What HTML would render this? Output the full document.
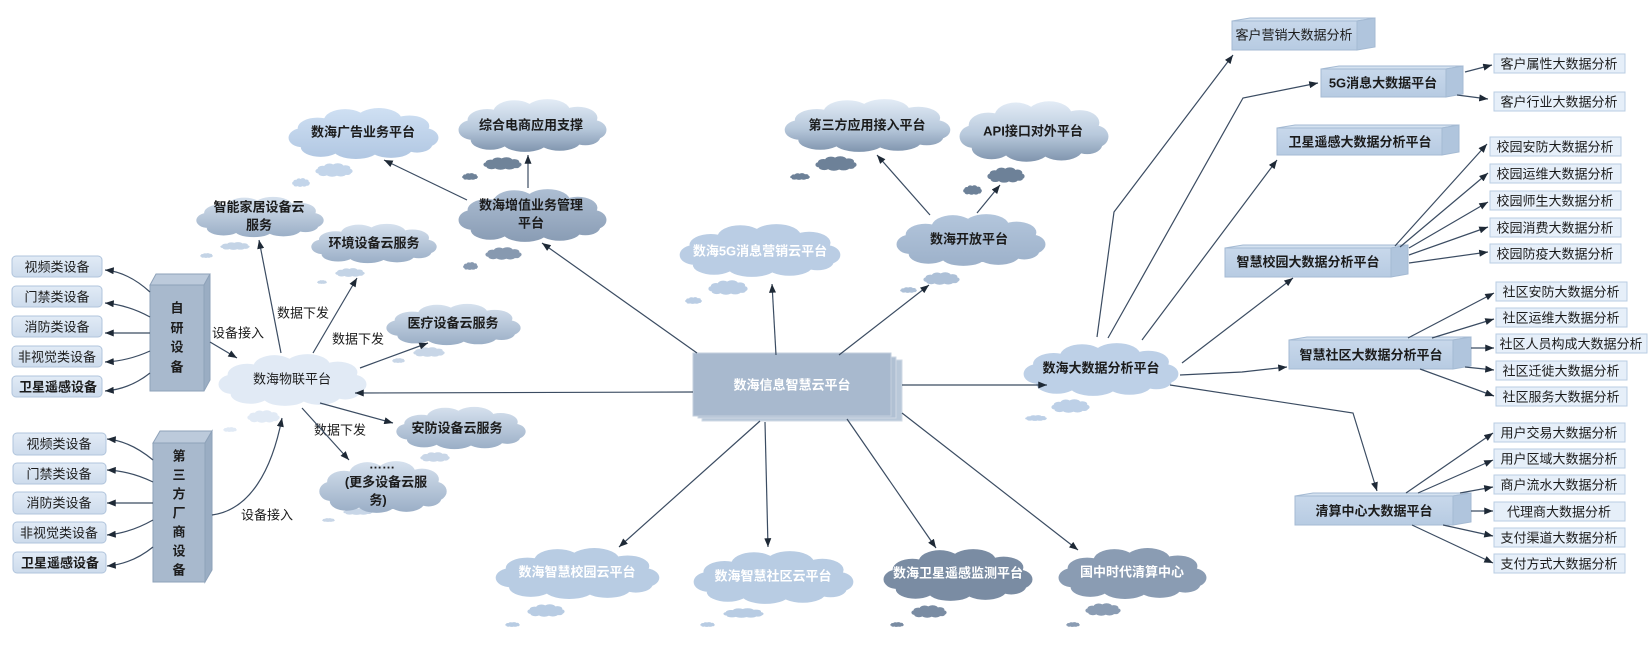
<!DOCTYPE html>
<html><head><meta charset="utf-8">
<style>
html,body{margin:0;padding:0;background:#fff;}
svg{display:block;font-family:"Liberation Sans","Noto Sans CJK SC",sans-serif;}
.t{font-size:13px;fill:#1b1b1b;text-anchor:middle;dominant-baseline:central;}
.b{font-weight:bold;}
.w{fill:#ffffff;}
</style></head>
<body>
<svg width="1650" height="656" viewBox="0 0 1650 656" xmlns="http://www.w3.org/2000/svg">
<defs>
<path id="cl" d="M10,26 a40,16 0 1,0 80,0 a40,16 0 1,0 -80,0 Z M7,20 a13,10 0 1,0 26,0 a13,10 0 1,0 -26,0 Z M24,13 a14,11 0 1,0 28,0 a14,11 0 1,0 -28,0 Z M45,12 a15,11 0 1,0 30,0 a15,11 0 1,0 -30,0 Z M67,18 a13,10 0 1,0 26,0 a13,10 0 1,0 -26,0 Z M1,29 a9,9 0 1,0 18,0 a9,9 0 1,0 -18,0 Z M81,29 a9,9 0 1,0 18,0 a9,9 0 1,0 -18,0 Z M9,38 a13,9 0 1,0 26,0 a13,9 0 1,0 -26,0 Z M30,40 a15,9 0 1,0 30,0 a15,9 0 1,0 -30,0 Z M54,39 a14,9 0 1,0 28,0 a14,9 0 1,0 -28,0 Z M75,35 a10,8 0 1,0 20,0 a10,8 0 1,0 -20,0 Z"/>
<linearGradient id="gA" x1="0" y1="0" x2="0" y2="1"><stop offset="0" stop-color="#d6e1ee"/><stop offset="1" stop-color="#9aaec6"/></linearGradient>
<linearGradient id="gB" x1="0" y1="0" x2="0" y2="1"><stop offset="0" stop-color="#cfe0f3"/><stop offset="1" stop-color="#b1c7e2"/></linearGradient>
<linearGradient id="gC" x1="0" y1="0" x2="0" y2="1"><stop offset="0" stop-color="#e3ecf6"/><stop offset="0.55" stop-color="#b8c9dc"/><stop offset="1" stop-color="#7f94ad"/></linearGradient>
<linearGradient id="gD" x1="0" y1="0" x2="0" y2="1"><stop offset="0" stop-color="#adbed3"/><stop offset="1" stop-color="#899cb4"/></linearGradient>
<linearGradient id="gE" x1="0" y1="0" x2="0" y2="1"><stop offset="0" stop-color="#b3c6dc"/><stop offset="1" stop-color="#9db1ca"/></linearGradient>
<linearGradient id="gBox" x1="0" y1="0" x2="0" y2="1"><stop offset="0" stop-color="#c8d8eb"/><stop offset="1" stop-color="#b7cbe2"/></linearGradient>
<linearGradient id="gLeft" x1="0" y1="0" x2="0" y2="1"><stop offset="0" stop-color="#e2ebf6"/><stop offset="1" stop-color="#cddbec"/></linearGradient>
<marker id="ah" viewBox="0 0 10 8" refX="10" refY="4" markerWidth="9" markerHeight="7" markerUnits="userSpaceOnUse" orient="auto"><path d="M0,0 L10,4 L0,8 z" fill="#1e2936"/></marker>
</defs>

<!-- small clouds -->
<g>
<use href="#cl" transform="translate(315,163) scale(0.38,0.28)" fill="#c3d5ea"/>
<use href="#cl" transform="translate(292,178) scale(0.18,0.18)" fill="#c3d5ea"/>
<use href="#cl" transform="translate(483,157) scale(0.39,0.26)" fill="#6f8399"/>
<use href="#cl" transform="translate(462,173) scale(0.16,0.14)" fill="#6f8399"/>
<use href="#cl" transform="translate(485,247) scale(0.37,0.26)" fill="#8799b0"/>
<use href="#cl" transform="translate(463,262) scale(0.15,0.16)" fill="#8799b0"/>
<use href="#cl" transform="translate(220,242) scale(0.30,0.16)" fill="#c4d4e6"/>
<use href="#cl" transform="translate(200,253) scale(0.13,0.10)" fill="#c4d4e6"/>
<use href="#cl" transform="translate(335,268) scale(0.30,0.18)" fill="#c4d4e6"/>
<use href="#cl" transform="translate(317,280) scale(0.10,0.08)" fill="#c4d4e6"/>
<use href="#cl" transform="translate(413,347) scale(0.32,0.20)" fill="#c8d6e7"/>
<use href="#cl" transform="translate(392,358) scale(0.13,0.10)" fill="#c8d6e7"/>
<use href="#cl" transform="translate(420,452) scale(0.30,0.20)" fill="#c8d6e7"/>
<use href="#cl" transform="translate(343,508) scale(0.30,0.14)" fill="#c8d6e7"/>
<use href="#cl" transform="translate(322,518) scale(0.13,0.08)" fill="#c8d6e7"/>
<use href="#cl" transform="translate(247,410) scale(0.33,0.26)" fill="#e1eaf5"/>
<use href="#cl" transform="translate(223,427) scale(0.14,0.10)" fill="#e1eaf5"/>
<use href="#cl" transform="translate(815,156) scale(0.42,0.30)" fill="#6d8198"/>
<use href="#cl" transform="translate(790,173) scale(0.20,0.14)" fill="#6d8198"/>
<use href="#cl" transform="translate(987,167) scale(0.38,0.32)" fill="#6d8198"/>
<use href="#cl" transform="translate(963,185) scale(0.19,0.20)" fill="#6d8198"/>
<use href="#cl" transform="translate(923,272) scale(0.37,0.26)" fill="#adc0d7"/>
<use href="#cl" transform="translate(900,287) scale(0.17,0.12)" fill="#adc0d7"/>
<use href="#cl" transform="translate(708,280) scale(0.40,0.30)" fill="#bacde4"/>
<use href="#cl" transform="translate(685,297) scale(0.17,0.14)" fill="#bacde4"/>
<use href="#cl" transform="translate(1051,399) scale(0.39,0.28)" fill="#bdd0e7"/>
<use href="#cl" transform="translate(1025,415) scale(0.22,0.12)" fill="#bdd0e7"/>
<use href="#cl" transform="translate(527,604) scale(0.38,0.26)" fill="#b8cce3"/>
<use href="#cl" transform="translate(505,622) scale(0.15,0.10)" fill="#b8cce3"/>
<use href="#cl" transform="translate(723,608) scale(0.41,0.20)" fill="#b8cce3"/>
<use href="#cl" transform="translate(700,622) scale(0.15,0.10)" fill="#b8cce3"/>
<use href="#cl" transform="translate(911,605) scale(0.36,0.26)" fill="#7a8ca3"/>
<use href="#cl" transform="translate(890,622) scale(0.14,0.10)" fill="#7a8ca3"/>
<use href="#cl" transform="translate(1085,603) scale(0.36,0.26)" fill="#8a9cb3"/>
<use href="#cl" transform="translate(1066,622) scale(0.14,0.10)" fill="#8a9cb3"/>
</g>

<!-- big clouds -->
<use href="#cl" transform="translate(287,107) scale(1.53,1.06)" fill="url(#gB)"/>
<use href="#cl" transform="translate(457,98) scale(1.51,1.10)" fill="url(#gC)"/>
<use href="#cl" transform="translate(457,188) scale(1.51,1.10)" fill="url(#gD)"/>
<use href="#cl" transform="translate(195,196) scale(1.30,0.84)" fill="url(#gA)"/>
<use href="#cl" transform="translate(310,223) scale(1.28,0.82)" fill="url(#gA)"/>
<use href="#cl" transform="translate(385,303) scale(1.37,0.86)" fill="url(#gA)"/>
<use href="#cl" transform="translate(395,406) scale(1.32,0.88)" fill="url(#gA)"/>
<use href="#cl" transform="translate(318,460) scale(1.30,1.08)" fill="url(#gA)"/>
<use href="#cl" transform="translate(217,353) scale(1.51,1.08)" fill="#e1eaf5"/>
<use href="#cl" transform="translate(783,98) scale(1.69,1.10)" fill="url(#gC)"/>
<use href="#cl" transform="translate(958,100) scale(1.52,1.26)" fill="url(#gC)"/>
<use href="#cl" transform="translate(895,213) scale(1.52,1.08)" fill="url(#gE)"/>
<use href="#cl" transform="translate(678,223) scale(1.64,1.10)" fill="#bacde4"/>
<use href="#cl" transform="translate(1022,342) scale(1.58,1.10)" fill="#bdd0e7"/>
<use href="#cl" transform="translate(494,547) scale(1.67,1.06)" fill="#b8cce3"/>
<use href="#cl" transform="translate(692,550) scale(1.63,1.10)" fill="#b8cce3"/>
<use href="#cl" transform="translate(882,548) scale(1.52,1.08)" fill="#7a8ca3"/>
<use href="#cl" transform="translate(1057,547) scale(1.51,1.06)" fill="#8a9cb3"/>

<!-- cloud labels -->
<text class="t b" x="363" y="132">数海广告业务平台</text>
<text class="t b" x="531" y="125">综合电商应用支撑</text>
<text class="t b" x="531" y="205">数海增值业务管理</text>
<text class="t b" x="531" y="223">平台</text>
<text class="t b" x="259" y="207">智能家居设备云</text>
<text class="t b" x="259" y="225">服务</text>
<text class="t b" x="374" y="243">环境设备云服务</text>
<text class="t b" x="453" y="323">医疗设备云服务</text>
<text class="t b" x="457" y="428">安防设备云服务</text>
<text class="t b" x="382" y="464">……</text>
<text class="t b" x="386" y="482">(更多设备云服</text>
<text class="t b" x="378" y="500">务)</text>
<text class="t" x="292" y="379">数海物联平台</text>
<text class="t b" x="867" y="125">第三方应用接入平台</text>
<text class="t b" x="1033" y="131">API接口对外平台</text>
<text class="t b" x="969" y="239">数海开放平台</text>
<text class="t b w" x="760" y="251">数海5G消息营销云平台</text>
<text class="t b" x="1101" y="368">数海大数据分析平台</text>
<text class="t b w" x="577" y="572">数海智慧校园云平台</text>
<text class="t b w" x="773" y="576">数海智慧社区云平台</text>
<text class="t b w" x="958" y="573">数海卫星遥感监测平台</text>
<text class="t b w" x="1132" y="572">国中时代清算中心</text>

<!-- center box -->
<rect x="702" y="360" width="200" height="61" fill="#b9c8d9" stroke="#d0dae5"/>
<rect x="698" y="357" width="198" height="61" fill="#b0c0d3" stroke="#cfd9e4"/>
<rect x="693" y="353" width="198" height="63" fill="#a8b9ce" stroke="#c3cfdd"/>
<text class="t b w" x="792" y="385">数海信息智慧云平台</text>

<!-- tall boxes -->
<polygon points="150,285 156,274 210,274 204,285" fill="#bccadb" stroke="#8ea2b9"/>
<polygon points="204,285 210,274 210,380 204,391" fill="#9aadc3" stroke="#8ea2b9"/>
<rect x="150" y="285" width="54" height="106" fill="#a8b9cd" stroke="#8ea2b9"/>
<text class="t b" x="177" y="308">自</text>
<text class="t b" x="177" y="328">研</text>
<text class="t b" x="177" y="347">设</text>
<text class="t b" x="177" y="367">备</text>
<polygon points="153,443 160,431 212,431 205,443" fill="#bccadb" stroke="#8ea2b9"/>
<polygon points="205,443 212,431 212,570 205,582" fill="#9aadc3" stroke="#8ea2b9"/>
<rect x="153" y="443" width="52" height="139" fill="#a8b9cd" stroke="#8ea2b9"/>
<text class="t b" x="179" y="456">第</text>
<text class="t b" x="179" y="475">三</text>
<text class="t b" x="179" y="494">方</text>
<text class="t b" x="179" y="513">厂</text>
<text class="t b" x="179" y="532">商</text>
<text class="t b" x="179" y="551">设</text>
<text class="t b" x="179" y="570">备</text>

<!-- left device boxes -->
<g fill="url(#gLeft)" stroke="#b0c4dc">
<rect x="12" y="256" width="90" height="21" rx="4"/>
<rect x="12" y="286" width="90" height="21" rx="4"/>
<rect x="12" y="316" width="90" height="21" rx="4"/>
<rect x="12" y="346" width="90" height="21" rx="4"/>
<rect x="12" y="376" width="90" height="21" rx="4"/>
<rect x="13" y="433" width="93" height="22" rx="4"/>
<rect x="13" y="463" width="93" height="21" rx="4"/>
<rect x="13" y="492" width="93" height="22" rx="4"/>
<rect x="13" y="522" width="93" height="21" rx="4"/>
<rect x="13" y="552" width="93" height="21" rx="4"/>
</g>
<text class="t" x="57" y="267">视频类设备</text>
<text class="t" x="57" y="297">门禁类设备</text>
<text class="t" x="57" y="327">消防类设备</text>
<text class="t" x="57" y="357">非视觉类设备</text>
<text class="t b" x="58" y="387">卫星遥感设备</text>
<text class="t" x="59" y="444">视频类设备</text>
<text class="t" x="59" y="474">门禁类设备</text>
<text class="t" x="59" y="503">消防类设备</text>
<text class="t" x="59" y="533">非视觉类设备</text>
<text class="t b" x="60" y="563">卫星遥感设备</text>

<!-- connector labels -->
<text class="t" x="238" y="333">设备接入</text>
<text class="t" x="267" y="515">设备接入</text>
<text class="t" x="303" y="313">数据下发</text>
<text class="t" x="358" y="339">数据下发</text>
<text class="t" x="340" y="430">数据下发</text>

<!-- 3D platform boxes right -->
<g stroke="#a4bad3">
<polygon points="1232,21 1250,18 1375,18 1357,21" fill="#d5e2f0"/>
<polygon points="1357,21 1375,18 1375,47 1357,50" fill="#b0c5dd"/>
<rect x="1232" y="21" width="125" height="29" fill="url(#gBox)"/>
<polygon points="1321,69 1339,66 1463,66 1446,69" fill="#d5e2f0"/>
<polygon points="1446,69 1463,66 1463,94 1446,97" fill="#b0c5dd"/>
<rect x="1321" y="69" width="125" height="28" fill="url(#gBox)"/>
<polygon points="1277,128 1295,125 1459,125 1442,128" fill="#d5e2f0"/>
<polygon points="1442,128 1459,125 1459,152 1442,155" fill="#b0c5dd"/>
<rect x="1277" y="128" width="165" height="27" fill="url(#gBox)"/>
<polygon points="1225,248 1243,245 1408,245 1391,248" fill="#d5e2f0"/>
<polygon points="1391,248 1408,245 1408,274 1391,277" fill="#b0c5dd"/>
<rect x="1225" y="248" width="166" height="29" fill="url(#gBox)"/>
<polygon points="1289,340 1307,337 1471,337 1453,340" fill="#d5e2f0"/>
<polygon points="1453,340 1471,337 1471,366 1453,369" fill="#b0c5dd"/>
<rect x="1289" y="340" width="164" height="29" fill="url(#gBox)"/>
<polygon points="1295,496 1313,493 1471,493 1453,496" fill="#d5e2f0"/>
<polygon points="1453,496 1471,493 1471,522 1453,525" fill="#b0c5dd"/>
<rect x="1295" y="496" width="158" height="29" fill="url(#gBox)"/>
</g>
<text class="t" x="1294" y="35">客户营销大数据分析</text>
<text class="t b" x="1383" y="83">5G消息大数据平台</text>
<text class="t b" x="1360" y="142">卫星遥感大数据分析平台</text>
<text class="t b" x="1308" y="262">智慧校园大数据分析平台</text>
<text class="t b" x="1371" y="355">智慧社区大数据分析平台</text>
<text class="t b" x="1374" y="511">清算中心大数据平台</text>

<!-- child boxes -->
<g fill="#e6eff9" stroke="#b9cde3">
<rect x="1494" y="54" width="131" height="19"/>
<rect x="1494" y="92" width="131" height="19"/>
<rect x="1490" y="137" width="131" height="19"/>
<rect x="1490" y="164" width="131" height="19"/>
<rect x="1490" y="191" width="131" height="19"/>
<rect x="1490" y="218" width="131" height="19"/>
<rect x="1490" y="244" width="131" height="19"/>
<rect x="1496" y="282" width="131" height="19"/>
<rect x="1496" y="308" width="131" height="19"/>
<rect x="1496" y="334" width="151" height="19"/>
<rect x="1496" y="361" width="131" height="19"/>
<rect x="1496" y="387" width="131" height="19"/>
<rect x="1494" y="423" width="131" height="19"/>
<rect x="1494" y="449" width="131" height="19"/>
<rect x="1494" y="475" width="131" height="19"/>
<rect x="1494" y="502" width="131" height="19"/>
<rect x="1494" y="528" width="131" height="19"/>
<rect x="1494" y="554" width="131" height="19"/>
</g>
<text class="t" x="1559" y="64">客户属性大数据分析</text>
<text class="t" x="1559" y="102">客户行业大数据分析</text>
<text class="t" x="1555" y="147">校园安防大数据分析</text>
<text class="t" x="1555" y="174">校园运维大数据分析</text>
<text class="t" x="1555" y="201">校园师生大数据分析</text>
<text class="t" x="1555" y="228">校园消费大数据分析</text>
<text class="t" x="1555" y="254">校园防疫大数据分析</text>
<text class="t" x="1561" y="292">社区安防大数据分析</text>
<text class="t" x="1561" y="318">社区运维大数据分析</text>
<text class="t" x="1571" y="344">社区人员构成大数据分析</text>
<text class="t" x="1561" y="371">社区迁徙大数据分析</text>
<text class="t" x="1561" y="397">社区服务大数据分析</text>
<text class="t" x="1559" y="433">用户交易大数据分析</text>
<text class="t" x="1559" y="459">用户区域大数据分析</text>
<text class="t" x="1559" y="485">商户流水大数据分析</text>
<text class="t" x="1559" y="512">代理商大数据分析</text>
<text class="t" x="1559" y="538">支付渠道大数据分析</text>
<text class="t" x="1559" y="564">支付方式大数据分析</text>

<!-- connectors -->
<g stroke="#3b4c62" stroke-width="1.2" fill="none" marker-end="url(#ah)">
<path d="M693,392 L355,393"/>
<path d="M697,353 L542,243"/>
<path d="M776,355 L772,284"/>
<path d="M839,355 L929,285"/>
<path d="M902,385 L1047,385"/>
<path d="M760,421 L619,547"/>
<path d="M765,422 L768,547"/>
<path d="M847,419 L936,548"/>
<path d="M902,413 L1078,550"/>
<path d="M528,188 L528,155"/>
<path d="M467,200 L384,160"/>
<path d="M930,215 L877,155"/>
<path d="M977,213 L1000,185"/>
<path d="M281,353 L259,240"/>
<path d="M313,353 L357,278"/>
<path d="M360,368 L428,343"/>
<path d="M320,403 L393,423"/>
<path d="M302,408 L349,460"/>
<path d="M210,342 L237,358"/>
<path d="M212,515 C250,510 272,470 282,418"/>
<path d="M150,292 Q128,272 105,270"/>
<path d="M150,317 Q128,305 105,303"/>
<path d="M150,333 L105,333"/>
<path d="M150,351 Q128,361 105,362"/>
<path d="M150,373 Q130,389 105,391"/>
<path d="M153,460 Q130,441 107,439"/>
<path d="M153,482 Q130,471 107,470"/>
<path d="M153,503 L107,503"/>
<path d="M153,520 Q130,533 107,535"/>
<path d="M153,547 Q132,564 107,566"/>
<path d="M1097,337 L1114,212 L1233,55"/>
<path d="M1108,338 L1243,98 L1318,83"/>
<path d="M1142,340 L1277,160"/>
<path d="M1182,363 L1293,278"/>
<path d="M1180,375 L1242,372 L1287,367"/>
<path d="M1170,385 L1353,413 L1377,491"/>
<path d="M1465,72 L1492,65"/>
<path d="M1457,95 L1488,99"/>
<path d="M1395,246 L1487,144"/>
<path d="M1400,247 L1488,173"/>
<path d="M1409,248 L1488,202"/>
<path d="M1409,255 L1488,227"/>
<path d="M1409,263 L1488,252"/>
<path d="M1408,338 L1494,293"/>
<path d="M1432,338 L1494,319"/>
<path d="M1471,348 L1494,348"/>
<path d="M1465,367 L1494,370"/>
<path d="M1420,369 L1494,396"/>
<path d="M1406,493 L1493,433"/>
<path d="M1418,493 L1493,460"/>
<path d="M1460,493 L1493,487"/>
<path d="M1471,511 L1493,511"/>
<path d="M1443,525 L1493,536"/>
<path d="M1412,525 L1493,563"/>
</g>
</svg>
</body></html>
